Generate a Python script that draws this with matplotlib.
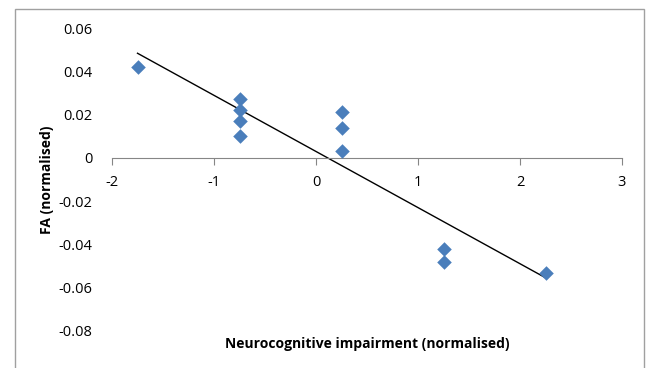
import numpy as np
import matplotlib.pyplot as plt
from matplotlib.patches import Rectangle

impairment = [-1.75, -0.75, -0.75, -0.75, -0.75, 0.25, 0.25, 0.25, 1.25, 1.25, 2.25]
fa = [0.042, 0.027, 0.022, 0.017, 0.010, 0.021, 0.014, 0.003, -0.042, -0.048, -0.053]
x_ticks = [-2, -1, 0, 1, 2, 3]
y_ticks = [-0.08, -0.06, -0.04, -0.02, 0, 0.02, 0.04, 0.06]

plt.rcParams['font.family'] = ['Open Sans', 'DejaVu Sans']

fig = plt.figure(figsize=(6.46, 3.68), dpi=100)
ax = fig.add_axes([112 / 646, 1 - 331 / 368, 510 / 646, 303 / 368])

ax.scatter(impairment, fa, marker='D', s=55, color='#4A7EBB', zorder=3, linewidths=0)

slope, intercept = np.polyfit(impairment, fa, 1)
xs = np.array([min(impairment), max(impairment)])
ax.plot(xs, slope * xs + intercept, color='black', lw=1, zorder=2)

ax.set_xlim(-2, 3)
ax.set_ylim(-0.08, 0.06)
ax.set_xticks(x_ticks)
ax.set_xticklabels([str(t) for t in x_ticks])
ax.set_yticks(y_ticks)
ax.set_yticklabels(['-0.08', '-0.06', '-0.04', '-0.02', '0', '0.02', '0.04', '0.06'])

for s in ['top', 'right', 'left']:
    ax.spines[s].set_visible(False)
ax.spines['bottom'].set_position(('data', 0))
ax.spines['bottom'].set_color('#868686')
ax.tick_params(axis='x', direction='out', length=5, color='#868686', pad=7, labelsize=10.5)
ax.tick_params(axis='y', length=0, pad=14, labelsize=10.5)

ax.set_ylabel('FA (normalised)', fontweight='bold', fontsize=10)
ax.yaxis.set_label_coords(-0.113, 0.5)
ax.set_xlabel('Neurocognitive impairment (normalised)', fontweight='bold', fontsize=10)
ax.xaxis.set_label_coords(0.5, -0.02)

fig.patches.append(Rectangle((15 / 646, -0.1), 629 / 646, 1.1 - 9 / 368, transform=fig.transFigure,
                             fill=False, edgecolor='#A0A0A0', lw=1, clip_on=False))

fig.savefig('out.png', dpi=100)
